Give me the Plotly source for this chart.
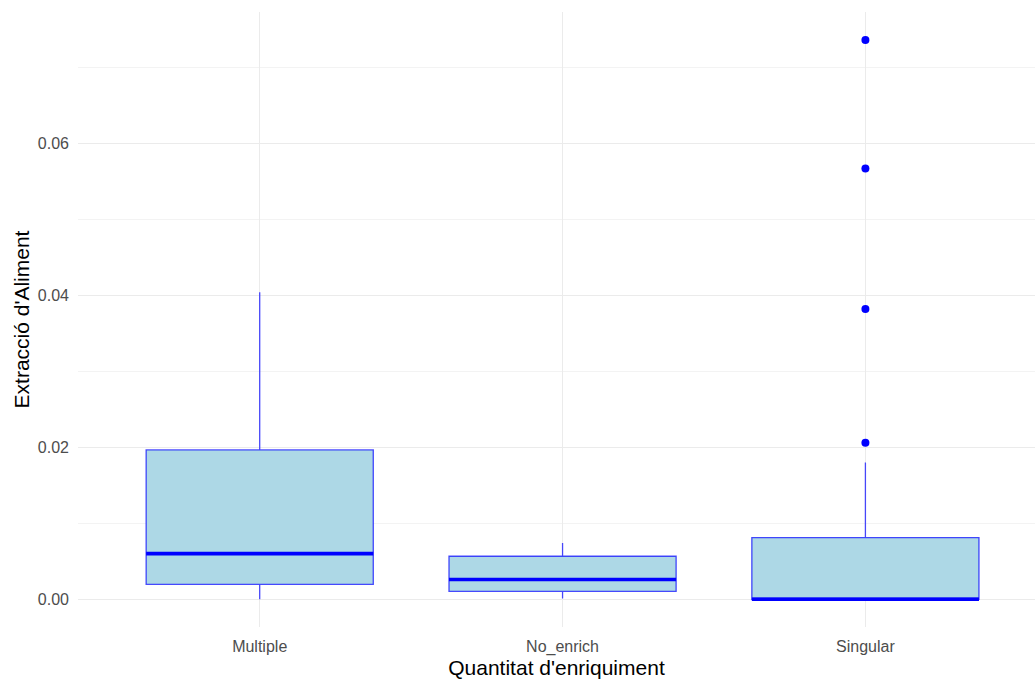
import plotly.graph_objects as go

# Summary statistics per enrichment group
categories = ["Multiple", "No_enrich", "Singular"]
q1_vals = [0.00197, 0.00105, 0.0]
median_vals = [0.00600, 0.00260, 0.0]
q3_vals = [0.01965, 0.00566, 0.00812]
lower_whisker = [0.0, 0.0001, 0.0]
upper_whisker = [0.0404, 0.00740, 0.01800]

# Outlying observations (group, value)
outlier_groups = ["Singular", "Singular", "Singular", "Singular"]
outlier_values = [0.0206, 0.0382, 0.0567, 0.0736]

BOX_WIDTH = 0.75
FILL = "#ADD8E6"
EDGE = "rgba(0,0,255,0.7)"
STRONG = "#0000FF"

pos = {c: i for i, c in enumerate(categories)}

fig = go.Figure()

for i, c in enumerate(categories):
    fig.add_trace(go.Box(
        x=[i], q1=[q1_vals[i]], median=[median_vals[i]], q3=[q3_vals[i]],
        lowerfence=[lower_whisker[i]], upperfence=[upper_whisker[i]],
        width=BOX_WIDTH, whiskerwidth=0, boxpoints=False,
        fillcolor=FILL, line=dict(color=EDGE, width=1.3),
        showlegend=False, hoverinfo="skip", name=c,
    ))
    # thick median bar
    fig.add_trace(go.Scatter(
        x=[i - BOX_WIDTH / 2, i + BOX_WIDTH / 2],
        y=[median_vals[i], median_vals[i]],
        mode="lines", line=dict(color=STRONG, width=3.6),
        showlegend=False, hoverinfo="skip",
    ))

fig.add_trace(go.Scatter(
    x=[pos[g] for g in outlier_groups], y=outlier_values,
    mode="markers", marker=dict(color=STRONG, size=8),
    showlegend=False, hoverinfo="skip",
))

fig.update_layout(
    width=1035, height=682,
    margin=dict(l=78, r=0, t=12, b=55),
    plot_bgcolor="white", paper_bgcolor="white",
    font=dict(family="Liberation Sans, Arial, sans-serif"),
    xaxis=dict(
        range=[-0.6, 2.56],
        tickmode="array", tickvals=list(range(len(categories))), ticktext=categories,
        showgrid=True, gridcolor="#EBEBEB", gridwidth=1.2, zeroline=False,
        showline=False, ticks="", ticklabelstandoff=8,
        tickfont=dict(size=16, color="#4D4D4D"),
        title=dict(text="Quantitat d'enriquiment", font=dict(size=21, color="#000000"), standoff=2),
    ),
    yaxis=dict(
        range=[-0.00365, 0.07728],
        tickmode="array", tickvals=[0.0, 0.02, 0.04, 0.06],
        ticktext=["0.00", "0.02", "0.04", "0.06"],
        showgrid=True, gridcolor="#EBEBEB", gridwidth=1.2, zeroline=False,
        showline=False, ticks="", ticklabelstandoff=8,
        minor=dict(tickvals=[0.01, 0.03, 0.05, 0.07], showgrid=True,
                   gridcolor="#F3F3F3", gridwidth=1),
        tickfont=dict(size=16, color="#4D4D4D"),
        title=dict(text="Extracció d'Aliment", font=dict(size=21, color="#000000"), standoff=2),
    ),
)

fig.write_html("out.html")
